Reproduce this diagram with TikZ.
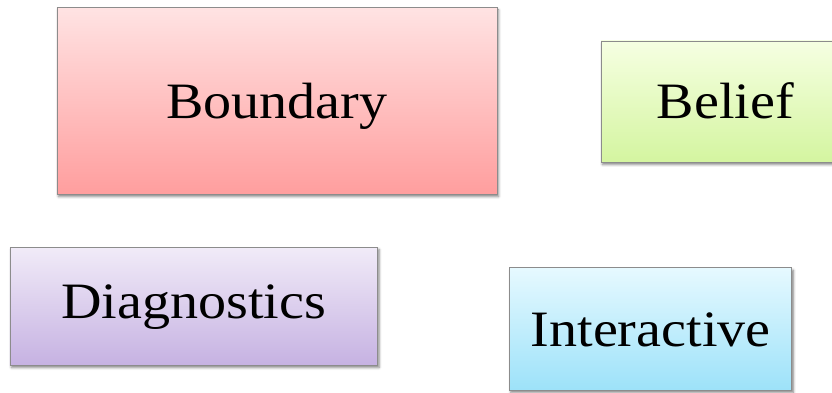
\documentclass[tikz,border=0pt]{standalone}
\usepackage{fontspec}
\setmainfont{Liberation Serif}[FakeStretch=1.1]
\usetikzlibrary{shadows.blur}
\definecolor{bordergray}{HTML}{8C8C8C}
\definecolor{redtop}{HTML}{FFE3E3}
\definecolor{redbot}{HTML}{FF9E9E}
\definecolor{greentop}{HTML}{F6FFE2}
\definecolor{greenbot}{HTML}{D4F5A0}
\definecolor{purptop}{HTML}{F1EBF8}
\definecolor{purpbot}{HTML}{C6B2E2}
\definecolor{cyantop}{HTML}{E6F9FF}
\definecolor{cyanbot}{HTML}{9DE2F9}
\tikzset{
  box/.style={rectangle, draw=bordergray, line width=0.9bp, inner sep=0pt,
    font=\fontsize{51bp}{60bp}\selectfont, text=black,
    blur shadow={shadow xshift=1.5bp, shadow yshift=-2.5bp, shadow blur radius=2.5bp, shadow opacity=50}},
}
\begin{document}
\begin{tikzpicture}[x=1bp,y=1bp]
\useasboundingbox (0,0) rectangle (832,392);
\clip (0,0) rectangle (832,392);
\node[box, top color=redtop, bottom color=redbot,
  minimum width=440bp, minimum height=186.5bp, text height=35bp, text depth=0bp]
  (boundary) at (277,291.25) {Boundary};
\node[box, top color=greentop, bottom color=greenbot,
  minimum width=249bp, minimum height=121bp, text height=33.6bp, text depth=0bp]
  (belief) at (725.5,290.5) {Belief};
\node[box, top color=purptop, bottom color=purpbot,
  minimum width=367.5bp, minimum height=118bp, text height=24.6bp, text depth=0bp]
  (diag) at (193.75,86) {Diagnostics};
\node[box, top color=cyantop, bottom color=cyanbot,
  minimum width=282.5bp, minimum height=122.3bp, text height=34.4bp, text depth=0bp]
  (inter) at (650.6,63.15) {Interactive};
\end{tikzpicture}
\end{document}
